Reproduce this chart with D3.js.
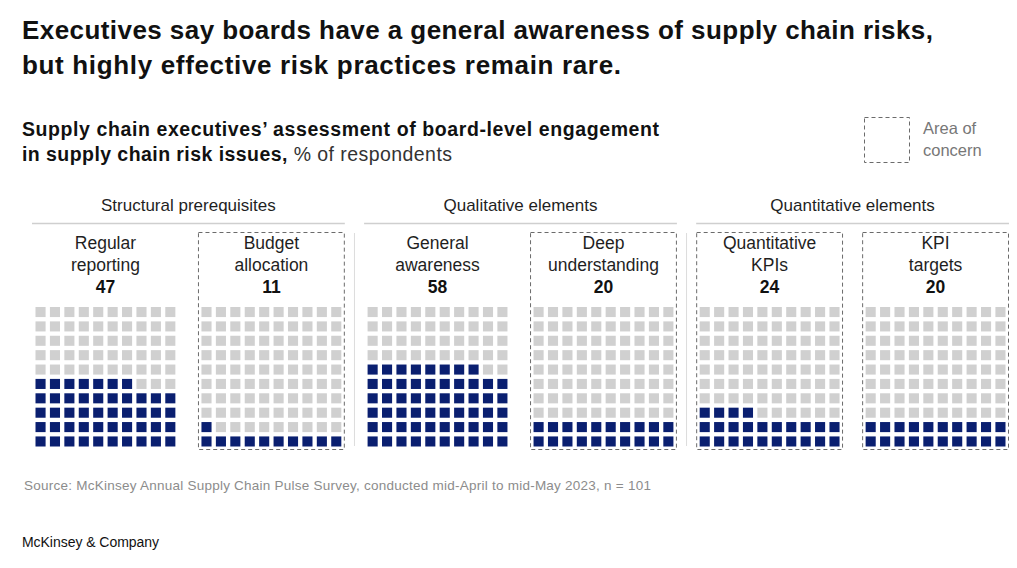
<!DOCTYPE html>
<html><head><meta charset="utf-8">
<script src="https://cdn.jsdelivr.net/npm/d3@7"></script>
<style>
body{margin:0;background:#fff}
svg{display:block}
text{font-family:"Liberation Sans",Arial,Helvetica,sans-serif}
</style>
</head><body>
<svg id="chart" width="1017" height="568"></svg>
<script>
// ---------- data ----------
const titleLines = ["Executives say boards have a general awareness of supply chain risks,",
                    "but highly effective risk practices remain rare."];
const subtitleBold = ["Supply chain executives\u2019 assessment of board-level engagement",
                      "in supply chain risk issues,"];
const subtitleUnit = " % of respondents";
const legendLines = ["Area of", "concern"];
const groups = ["Structural prerequisites", "Qualitative elements", "Quantitative elements"];
const categories = ["Regular reporting", "Budget allocation", "General awareness",
                    "Deep understanding", "Quantitative KPIs", "KPI targets"];
const categoryLines = [["Regular","reporting"],["Budget","allocation"],["General","awareness"],
                       ["Deep","understanding"],["Quantitative","KPIs"],["KPI","targets"]];
const categoryGroup = [0, 0, 1, 1, 2, 2];
const values = [47, 11, 58, 20, 24, 20];
const areaOfConcern = [false, true, false, true, true, true];
const sourceText = "Source: McKinsey Annual Supply Chain Pulse Survey, conducted mid-April to mid-May 2023, n = 101";
const brandText = "McKinsey & Company";

// ---------- styles ----------
const NAVY = "#0a1f70", GRAY = "#d0d0d0", INK = "#1f1f1f";

const svg = d3.select("#chart");

function fit(sel, w) { sel.attr("textLength", w).attr("lengthAdjust", "spacing"); }

// title
svg.selectAll("text.title").data(titleLines).join("text")
  .attr("class","title")
  .attr("x", 22).attr("y", (d,i) => 39 + i*35)
  .attr("font-size", 26).attr("font-weight", 700).attr("fill", "#111")
  .text(d => d)
  .each(function(d,i){ fit(d3.select(this), i === 0 ? 911 : 599); });

// subtitle
const sub = svg.append("g");
sub.append("text").attr("x", 22).attr("y", 136)
  .attr("font-size", 19.5).attr("font-weight", 700).attr("fill", "#111")
  .text(subtitleBold[0]).call(fit, 637);
const sub2 = sub.append("text").attr("x", 22).attr("y", 161)
  .attr("font-size", 19.5).attr("fill", "#111");
sub2.append("tspan").attr("font-weight", 700).text(subtitleBold[1]);
sub2.append("tspan").attr("fill", "#333").text(subtitleUnit);
fit(sub2, 430);

// legend
svg.append("rect").attr("x", 864.5).attr("y", 117.5).attr("width", 45).attr("height", 45)
  .attr("fill", "none").attr("stroke", "#6b6b6b").attr("stroke-width", 1).attr("stroke-dasharray", "4,3");
svg.selectAll("text.legend").data(legendLines).join("text")
  .attr("class","legend").attr("x", 923).attr("y", (d,i) => 134 + i*22)
  .attr("font-size", 16.5).attr("fill", "#777").text(d => d);

// ---------- layout scales ----------
const gx = d3.scaleBand().domain(groups).range([32, 1009]).paddingInner(0.058);
const px = d3.scaleBand().domain([0, 1]).range([0, gx.bandwidth()]).paddingInner(0.115);
const colIdx = d3.range(10);
const cx = d3.scaleBand().domain(colIdx).range([3.5, px.bandwidth() - 3.5]).paddingInner(0.3);
const cy = d3.scaleBand().domain(colIdx).range([446.5, 307]).paddingInner(0.3);

// group headers
const gsel = svg.selectAll("g.group").data(groups).join("g")
  .attr("class","group").attr("transform", d => `translate(${gx(d)},0)`);
gsel.append("text").attr("x", gx.bandwidth()/2).attr("y", 211)
  .attr("text-anchor","middle").attr("font-size", 17).attr("fill", INK).text(d => d);
gsel.append("line").attr("x1", 0).attr("x2", gx.bandwidth()).attr("y1", 223.5).attr("y2", 223.5)
  .attr("stroke", "#cfcfcf").attr("stroke-width", 1.5);

// separators between groups
svg.selectAll("line.sep").data(groups.slice(1)).join("line")
  .attr("class","sep")
  .attr("x1", d => gx(d) - gx.step()*gx.paddingInner()/2)
  .attr("x2", d => gx(d) - gx.step()*gx.paddingInner()/2)
  .attr("y1", 233).attr("y2", 446).attr("stroke", "#dcdcdc").attr("stroke-width", 1);

// panels
const panelData = categories.map((c,i) => ({
  name: c, lines: categoryLines[i], value: values[i], concern: areaOfConcern[i],
  group: groups[categoryGroup[i]], slot: categories.slice(0,i).filter((_,j)=>categoryGroup[j]===categoryGroup[i]).length
}));

const panels = svg.selectAll("g.panel").data(panelData).join("g")
  .attr("class","panel")
  .attr("transform", d => `translate(${gx(d.group) + px(d.slot)},0)`);

panels.filter(d => d.concern).append("rect")
  .attr("x", 0.5).attr("y", 232.5).attr("width", px.bandwidth() - 1).attr("height", 217)
  .attr("fill","none").attr("stroke","#6b6b6b").attr("stroke-width",1).attr("stroke-dasharray","4,3");

panels.each(function(d){
  const g = d3.select(this);
  g.selectAll("text.lab").data(d.lines).join("text")
    .attr("class","lab").attr("x", px.bandwidth()/2).attr("y", (t,i) => 249 + i*22)
    .attr("text-anchor","middle").attr("font-size", 17.5).attr("fill", INK).text(t => t);
  g.append("text").attr("x", px.bandwidth()/2).attr("y", 293)
    .attr("text-anchor","middle").attr("font-size", 17.5).attr("font-weight", 700).attr("fill", "#111")
    .text(d.value);
  g.selectAll("rect.cell").data(d3.range(100)).join("rect")
    .attr("class","cell")
    .attr("x", k => cx(k % 10)).attr("y", k => cy(Math.floor(k / 10)))
    .attr("width", cx.bandwidth()).attr("height", cy.bandwidth())
    .attr("fill", k => k < d.value ? NAVY : GRAY);
});

// footer
svg.append("text").attr("x", 24).attr("y", 490).attr("font-size", 13.5).attr("fill", "#8c8c8c")
  .text(sourceText).call(fit, 627);
svg.append("text").attr("x", 22).attr("y", 547).attr("font-size", 14).attr("fill", "#111")
  .text(brandText).call(fit, 137);
</script>
</body></html>
